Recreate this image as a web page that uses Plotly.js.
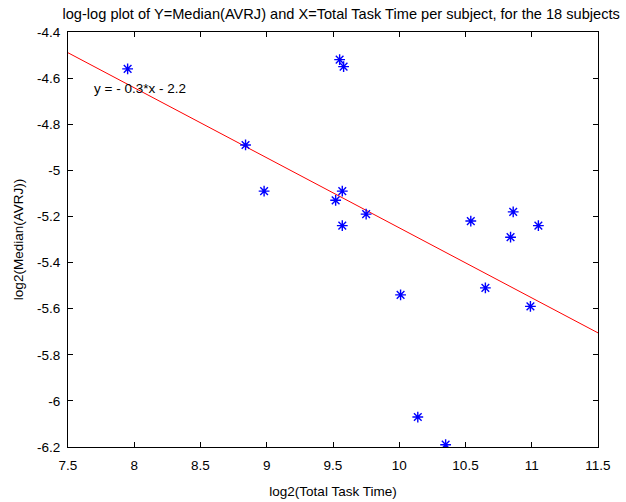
<!DOCTYPE html>
<html>
<head>
<meta charset="utf-8">
<script src="https://cdn.plot.ly/plotly-3.0.1.min.js"></script>
<style>html,body{margin:0;padding:0;background:#fff;}#chart{width:626px;height:502px;}</style>
</head>
<body>
<div id="chart"></div>
<script>
const subjX = [7.95, 8.84, 8.98, 9.55, 9.58, 9.52, 9.57, 9.57, 9.75, 10.01, 10.14, 10.35, 10.54, 10.65, 10.84, 10.86, 10.99, 11.05];
const subjY = [-4.56, -4.89, -5.09, -4.52, -4.55, -5.13, -5.09, -5.24, -5.19, -5.54, -6.07, -6.19, -5.22, -5.51, -5.29, -5.18, -5.59, -5.24];
const fitX = [7.5, 11.5];
const fitY = [-4.49, -5.705];
const xTicks = [7.5, 8, 8.5, 9, 9.5, 10, 10.5, 11, 11.5];
const xTickText = ['7.5', '8', '8.5', '9', '9.5', '10', '10.5', '11', '11.5'];
const yTicks = [-6.2, -6, -5.8, -5.6, -5.4, -5.2, -5, -4.8, -4.6, -4.4];
const yTickText = ['-6.2', '-6', '-5.8', '-5.6', '-5.4', '-5.2', '-5', '-4.8', '-4.6', '-4.4'];
const titleText = 'log-log plot of Y=Median(AVRJ) and X=Total Task Time per subject, for the 18 subjects';
const eqText = 'y = - 0.3*x - 2.2';

const font = {family: 'Liberation Sans, Arial, sans-serif', size: 13.5, color: '#000'};
const titleFont = {family: 'Liberation Sans, Arial, sans-serif', size: 14.6, color: '#000'};
const traces = [
  {x: fitX, y: fitY, mode: 'lines', line: {color: '#ff0000', width: 1}, hoverinfo: 'skip'},
  {x: subjX, y: subjY, mode: 'markers', marker: {symbol: 'asterisk-open', size: 9, color: '#0000ff', line: {color: '#0000ff', width: 1.4}}}
];
const axisCommon = {
  showgrid: false, zeroline: false, showline: true, linecolor: '#000', linewidth: 1,
  mirror: 'ticks', ticks: 'inside', ticklen: 5, tickcolor: '#000', tickfont: font
};
const layout = {
  width: 626, height: 502,
  margin: {l: 68, r: 28, t: 32, b: 55},
  paper_bgcolor: '#fff', plot_bgcolor: '#fff',
  showlegend: false,
  font: font,
  title: {text: titleText, font: titleFont, x: 0.545, xanchor: 'center', y: 0.972, yanchor: 'middle'},
  xaxis: Object.assign({}, axisCommon, {range: [7.5, 11.5], tickvals: xTicks, ticktext: xTickText,
    ticklabelstandoff: 6, title: {text: 'log2(Total Task Time)', font: font, standoff: 14}}),
  yaxis: Object.assign({}, axisCommon, {range: [-6.2, -4.4], tickvals: yTicks, ticktext: yTickText,
    ticklabelstandoff: 4, title: {text: 'log2(Median(AVRJ))', font: font, standoff: 10}}),
  annotations: [{x: 7.68, y: -4.643, xref: 'x', yref: 'y', text: eqText, showarrow: false, xanchor: 'left', yanchor: 'middle', font: font}]
};
Plotly.newPlot('chart', traces, layout, {staticPlot: true});
</script>
</body>
</html>
